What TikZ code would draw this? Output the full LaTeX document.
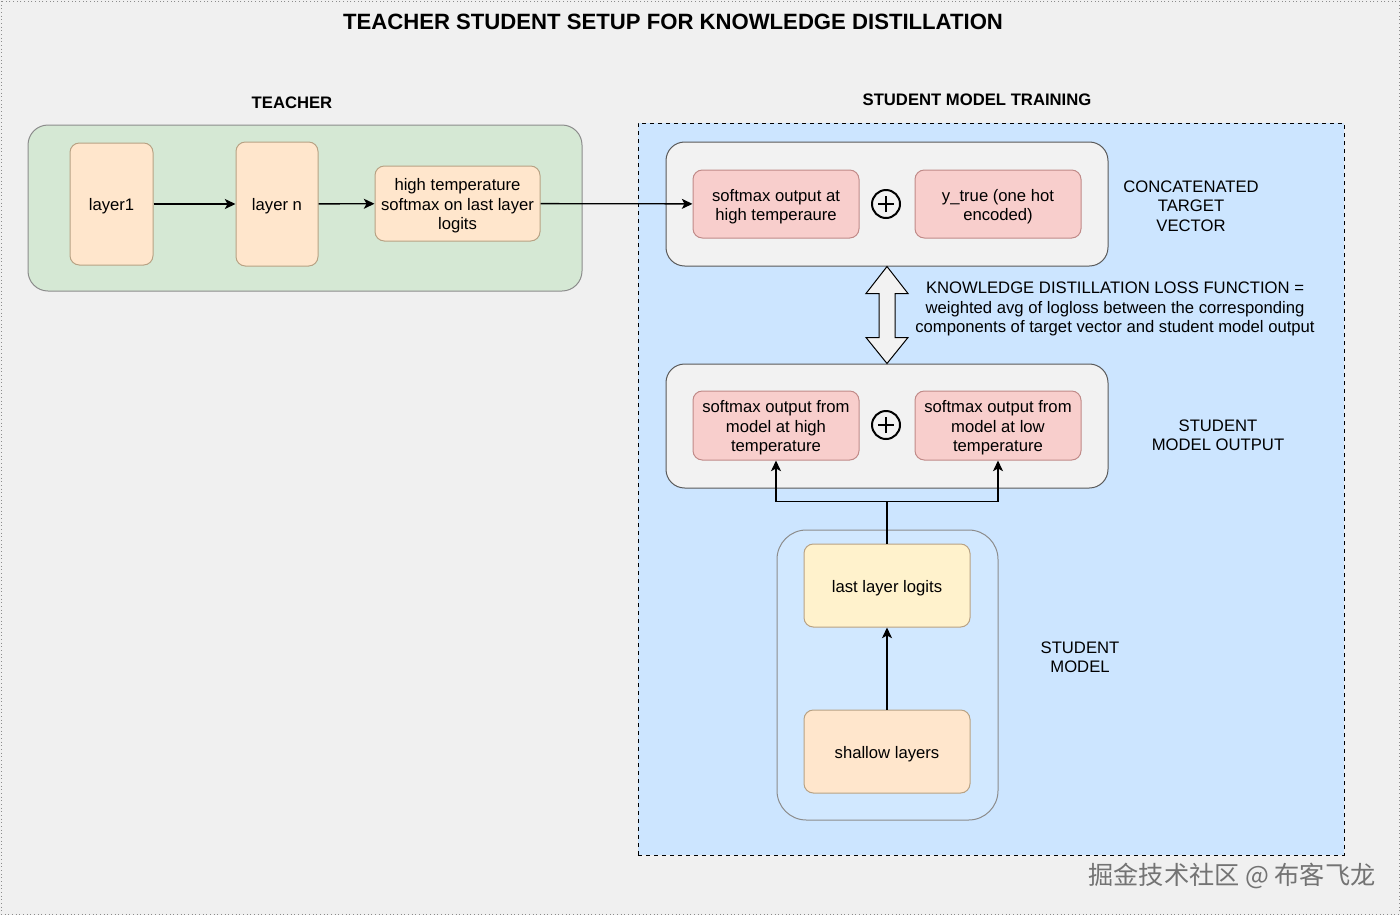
\documentclass[tikz,border=0pt]{standalone}
\usepackage{fontspec}
\setmainfont{Liberation Sans}
\newfontfamily\cjk{Noto Sans CJK SC}
\usetikzlibrary{arrows.meta,calc}
\definecolor{bgc}{HTML}{F0F0F0}
\definecolor{greenc}{HTML}{D5E8D4}
\definecolor{bluec}{HTML}{CCE5FF}
\definecolor{orangec}{HTML}{FFE6CC}
\definecolor{yellowc}{HTML}{FFF2CC}
\definecolor{redc}{HTML}{F8CECC}
\definecolor{redline}{HTML}{C08A88}
\definecolor{orangeline}{HTML}{B8A284}
\definecolor{grayline}{HTML}{8C8C8C}
\definecolor{boxgray}{HTML}{F2F2F2}
\newcommand\boxtext[2]{\node[txt] (#1t) at ($(#1.center)+(0,2.5)$) {#2};}
\tikzset{
  sz/.style 2 args={minimum width=#1*0.75pt, minimum height=#2*0.75pt},
  txt/.style={font=\fontsize{12.5}{14.6}\selectfont, align=center},
  lbl/.style={font=\fontsize{12.5}{14.6}\selectfont\bfseries, align=center},
  container/.style={draw=grayline, line width=0.75pt, rounded corners=15pt, inner sep=0pt},
  obox/.style={draw=orangeline, fill=orangec, line width=0.75pt, rounded corners=7pt, inner sep=0pt},
  rbox/.style={draw=redline, fill=redc, line width=0.75pt, rounded corners=7pt, inner sep=0pt},
  graybox/.style={draw=black!65, fill=boxgray, line width=0.75pt, rounded corners=14pt, inner sep=0pt},
  arr/.style={-{Stealth[length=8pt,width=7.5pt,inset=2pt]}, line width=1pt, black},
  plusc/.style={circle, draw=black, line width=1.5pt, minimum size=21pt, inner sep=0pt,
    path picture={\draw[line width=1.5pt] ([xshift=-6pt]path picture bounding box.center) -- ([xshift=6pt]path picture bounding box.center);
                  \draw[line width=1.5pt] ([yshift=-6pt]path picture bounding box.center) -- ([yshift=6pt]path picture bounding box.center);}},
}
\begin{document}
\begin{tikzpicture}[x=0.75pt,y=-0.75pt]
\useasboundingbox (0,0) rectangle (1400,915);
\fill[bgc] (0,0) rectangle (1400,915);
\draw[grayline, dotted, line width=0.75pt] (1,1) rectangle (1399,914);

% title
\node[font=\fontsize{16.6}{18}\selectfont\bfseries] (title) at (673,22) {TEACHER STUDENT SETUP FOR KNOWLEDGE DISTILLATION};

% teacher
\node[lbl] (tlabel) at (292,103) {TEACHER};
\node[container, fill=greenc, sz={554}{166}] (teacher) at (305,208) {};
\node[obox, sz={83}{122}] (l1) at (111.5,204) {};
\boxtext{l1}{layer1}
\node[obox, sz={82}{124}] (ln) at (277,204) {};
\boxtext{ln}{layer n}
\node[obox, sz={165}{75}] (ht) at (457.5,203.5) {};
\boxtext{ht}{high temperature\\softmax on last layer\\logits}

% student training area
\node[lbl] (slabel) at (977,100) {STUDENT MODEL TRAINING};
\node[draw=black, dashed, fill=bluec, line width=0.75pt, inner sep=0pt, sz={706}{732}] (strain) at (991,489) {};

\node[graybox, sz={442}{124}] (cat) at (887,204) {};
\node[rbox, sz={166}{68}] (t1) at (776,204) {};
\boxtext{t1}{softmax output at\\high temperaure}
\node[plusc] (p1) at (886,204) {};
\node[rbox, sz={166}{68}] (t2) at (998,204) {};
\boxtext{t2}{y\_true (one hot\\encoded)}
\node[txt] (catlbl) at (1191,206) {CONCATENATED\\TARGET\\VECTOR};

\node[graybox, sz={442}{124}] (sout) at (887,426) {};
\node[rbox, sz={166}{69}] (s1) at (776,425.5) {};
\boxtext{s1}{softmax output from\\model at high\\temperature}
\node[plusc] (p2) at (886,425) {};
\node[rbox, sz={166}{69}] (s2) at (998,425.5) {};
\boxtext{s2}{softmax output from\\model at low\\temperature}
\node[txt] (soutlbl) at (1218,435) {STUDENT\\MODEL OUTPUT};

% loss
\draw[fill=boxgray, line width=0.75pt, line join=miter] (cat.south) -- ++(21,27) -- ++(-13,0) -- ++(0,44) -- ++(13,0) -- (sout.north)
  -- ++(-21,-26) -- ++(13,0) -- ++(0,-44) -- ++(-13,0) -- cycle;
\node[txt] (loss) at (1115,309) {KNOWLEDGE DISTILLATION LOSS FUNCTION =\\weighted avg of logloss between the corresponding\\components of target vector and student model output};

% student model
\node[container, draw=grayline, fill=bluec!90!white, rounded corners=22pt, sz={221}{290}] (smodel) at (887.5,675) {};
\node[obox, fill=yellowc, sz={166}{83}] (ll) at (887,585.5) {};
\boxtext{ll}{last layer logits}
\node[obox, sz={166}{83}] (sh) at (887,751.5) {};
\boxtext{sh}{shallow layers}
\node[txt] (smlbl) at (1080,657) {STUDENT\\MODEL};

% connectors
\draw[arr] (l1) -- (ln);
\draw[arr] (ln) -- (ht);
\draw[arr] (ht) -- (t1);
\draw[arr] (sh) -- (ll);
\coordinate (split) at ($(ll.north)+(0,-42)$);
\draw[line width=1pt] (ll.north) -- (split);
\draw[arr] (split) -| (s1.south);
\draw[arr] (split) -| (s2.south);

% watermark
\node[text=black!55, font=\fontsize{18.9}{20}\selectfont\cjk] (wm) at (1232,876) {掘金技术社区 @ 布客飞龙};
\end{tikzpicture}
\end{document}
